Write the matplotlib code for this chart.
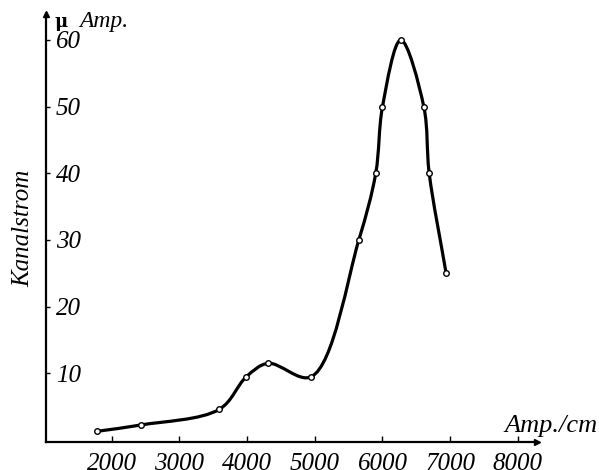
import matplotlib
matplotlib.use("Agg")
import matplotlib.pyplot as plt
import numpy as np
from matplotlib.path import Path
from matplotlib.patches import PathPatch

# Kanalstrom (micro Amp.) gegen Feldstaerke (Amp./cm)
amp_cm = [1780, 2430, 3590, 3990, 4310, 4950, 5650, 5900, 6000, 6270, 6610, 6690, 6940]
kanalstrom = [1.3, 2.25, 4.6, 9.5, 11.5, 9.5, 30, 40, 50, 60, 50, 40, 25]

x_ticks = [2000, 3000, 4000, 5000, 6000, 7000, 8000]
y_ticks = [10, 20, 30, 40, 50, 60]

FONT = "Liberation Serif"


def smooth_path(ax, xs, ys, alpha=0.5):
    # zentripetale Catmull-Rom-Kurve durch die Messpunkte, als Bezier gezeichnet
    pts = np.column_stack([xs, ys]).astype(float)
    pix = ax.transData.transform(pts)
    ext = np.vstack([2 * pts[0] - pts[1], pts, 2 * pts[-1] - pts[-2]])
    epx = np.vstack([2 * pix[0] - pix[1], pix, 2 * pix[-1] - pix[-2]])
    verts = [tuple(pts[0])]
    codes = [Path.MOVETO]
    for i in range(1, len(ext) - 2):
        p0, p1, p2, p3 = ext[i - 1], ext[i], ext[i + 1], ext[i + 2]
        d1 = np.linalg.norm(epx[i] - epx[i - 1]) ** alpha
        d2 = np.linalg.norm(epx[i + 1] - epx[i]) ** alpha
        d3 = np.linalg.norm(epx[i + 2] - epx[i + 1]) ** alpha
        b1 = (d1 ** 2 * p2 - d2 ** 2 * p0 + (2 * d1 ** 2 + 3 * d1 * d2 + d2 ** 2) * p1) / (3 * d1 * (d1 + d2))
        b2 = (d3 ** 2 * p1 - d2 ** 2 * p3 + (2 * d3 ** 2 + 3 * d3 * d2 + d2 ** 2) * p2) / (3 * d3 * (d3 + d2))
        verts += [tuple(b1), tuple(b2), tuple(p2)]
        codes += [Path.CURVE4] * 3
    return Path(verts, codes)


fig = plt.figure(figsize=(5.99, 4.70), dpi=100)
ax = fig.add_axes([46 / 599, 1 - 442 / 470, (537 - 46) / 599, (442 - 14) / 470])

ax.set_xlim(1030, 8282)
ax.set_ylim(-0.3, 63.9)

ax.add_patch(PathPatch(smooth_path(ax, amp_cm, kanalstrom), facecolor="none",
                       edgecolor="black", lw=2.3, zorder=3))
ax.plot(amp_cm, kanalstrom, "o", ms=4, mfc="white", mec="black", mew=1.0, zorder=4)

for s in ["top", "right"]:
    ax.spines[s].set_visible(False)
for s in ["left", "bottom"]:
    ax.spines[s].set_linewidth(1.6)

# Pfeilspitzen
ax.plot(1, 0, ">k", ms=5, transform=ax.transAxes, clip_on=False)
ax.plot(0, 1, "^k", ms=5, transform=ax.transAxes, clip_on=False)

ax.set_xticks(x_ticks)
ax.set_yticks(y_ticks)
ax.tick_params(axis="x", direction="in", length=4, width=1, pad=8)
ax.tick_params(axis="y", direction="in", length=3, width=1, pad=-7)
for lbl in ax.get_xticklabels():
    lbl.set_fontfamily(FONT)
    lbl.set_fontstyle("italic")
    lbl.set_fontsize(18)
for lbl in ax.get_yticklabels():
    lbl.set_fontfamily(FONT)
    lbl.set_fontstyle("italic")
    lbl.set_fontsize(18)
    lbl.set_horizontalalignment("left")

fig.text(23 / 599, 1 - 228 / 470, "Kanalstrom", rotation=90, ha="center", va="center",
         family=FONT, style="italic", fontsize=18)
fig.text(54 / 599, 1 - 22 / 470, "μ", ha="left", va="center",
         family="DejaVu Serif", weight="bold", fontsize=13)
fig.text(79 / 599, 1 - 21 / 470, "Amp.", ha="left", va="center",
         family=FONT, style="italic", fontsize=17)
fig.text(598 / 599, 1 - 426 / 470, "Amp./cm", ha="right", va="center",
         family=FONT, style="italic", fontsize=19)

fig.savefig("out.png", dpi=100)
